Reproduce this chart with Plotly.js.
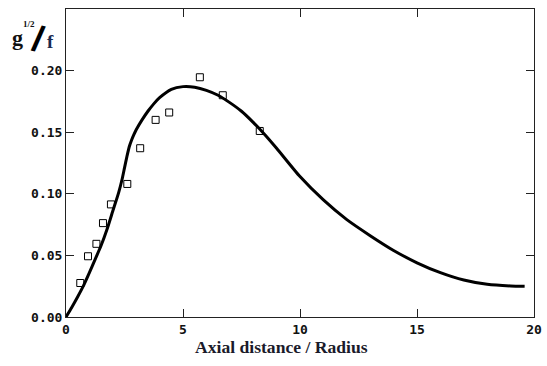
<!DOCTYPE html>
<html>
<head>
<meta charset="utf-8">
<script src="https://cdn.plot.ly/plotly-3.0.1.min.js"></script>
<style>html,body{margin:0;padding:0;background:#fff;}#chart{width:547px;height:366px;}</style>
</head>
<body>
<div id="chart"></div>
<script>
// Model curve
const curveX = [0, 0.25, 0.5, 0.75, 1.0, 1.25, 1.5, 1.75, 2.0, 2.25, 2.4, 2.5, 2.6, 2.7, 2.8, 2.9, 3.0, 3.25, 3.5, 3.75, 4.0, 4.5, 5.0, 5.5, 6.0, 6.5, 7.0, 7.5, 8.0, 8.5, 9.0, 10.0, 11.0, 12.0, 13.0, 14.0, 15.0, 16.0, 17.0, 18.0, 19.0, 19.6];
const curveY = [0, 0.008, 0.0165, 0.0255, 0.036, 0.047, 0.058, 0.071, 0.086, 0.101, 0.112, 0.121, 0.130, 0.138, 0.1435, 0.148, 0.152, 0.160, 0.167, 0.173, 0.178, 0.1848, 0.187, 0.1865, 0.184, 0.180, 0.174, 0.167, 0.158, 0.148, 0.137, 0.114, 0.095, 0.079, 0.066, 0.054, 0.044, 0.036, 0.030, 0.0265, 0.0252, 0.025];
// Experimental points
const expX = [0.61, 0.94, 1.30, 1.58, 1.92, 2.62, 3.17, 3.83, 4.41, 5.72, 6.70, 8.28];
const expY = [0.0276, 0.0493, 0.0594, 0.0762, 0.0914, 0.108, 0.137, 0.160, 0.166, 0.1946, 0.180, 0.151];
const xTicks = [0, 5, 10, 15, 20];
const yTicks = [0, 0.05, 0.10, 0.15, 0.20];

const L = 65.5, R = 534, T = 9, B = 317, W = 547, H = 366;
const px = v => (v - L) / (R - L);
const py = v => (B - v) / (B - T);

const axisCommon = {
  showgrid: false, zeroline: false, showline: true, linecolor: '#222', linewidth: 1,
  mirror: 'ticks', ticks: 'inside', ticklen: 8, tickcolor: '#222', tickwidth: 1,
  tickfont: {family: 'DejaVu Sans Mono', size: 13, color: '#111', weight: 'bold'}
};

const data = [
  {x: curveX, y: curveY, mode: 'lines', line: {color: '#000', width: 3, shape: 'spline', smoothing: 0.6}, hoverinfo: 'skip'},
  {x: expX, y: expY, mode: 'markers', marker: {symbol: 'square-open', size: 7, color: '#000', line: {width: 1, color: '#000'}}}
];

const serif = 'Liberation Serif';
const layout = {
  width: W, height: H,
  margin: {l: L, r: W - R, t: T, b: H - B, pad: 0},
  paper_bgcolor: '#fff', plot_bgcolor: '#fff', showlegend: false,
  xaxis: Object.assign({}, axisCommon, {range: [0, 20], tickvals: xTicks, ticktext: xTicks.map(String)}),
  yaxis: Object.assign({}, axisCommon, {range: [0, 0.25], tickvals: yTicks, tickformat: '.2f'}),
  annotations: [
    {xref: 'paper', yref: 'paper', x: px(281), y: py(347), text: 'Axial distance / Radius', showarrow: false,
     font: {family: serif, size: 17.6, color: '#1a1a2a', weight: 'bold'}, xanchor: 'center', yanchor: 'middle'},
    {xref: 'paper', yref: 'paper', x: px(17), y: py(38), text: 'g', showarrow: false,
     font: {family: serif, size: 22, color: '#111', weight: 'bold'}, xanchor: 'center', yanchor: 'middle'},
    {xref: 'paper', yref: 'paper', x: px(28), y: py(24), text: '1/2', showarrow: false,
     font: {family: serif, size: 9, color: '#111', weight: 'bold'}, xanchor: 'center', yanchor: 'middle'},
    {xref: 'paper', yref: 'paper', x: px(37), y: py(39), text: '/', showarrow: false, textangle: 13,
     font: {family: 'Liberation Sans', size: 36, color: '#000', weight: 'bold'}, xanchor: 'center', yanchor: 'middle'},
    {xref: 'paper', yref: 'paper', x: px(50), y: py(41), text: 'f', showarrow: false,
     font: {family: serif, size: 19, color: '#1a2a50', weight: 'bold'}, xanchor: 'center', yanchor: 'middle'}
  ]
};

Plotly.newPlot('chart', data, layout, {staticPlot: true, displayModeBar: false});
</script>
</body>
</html>
